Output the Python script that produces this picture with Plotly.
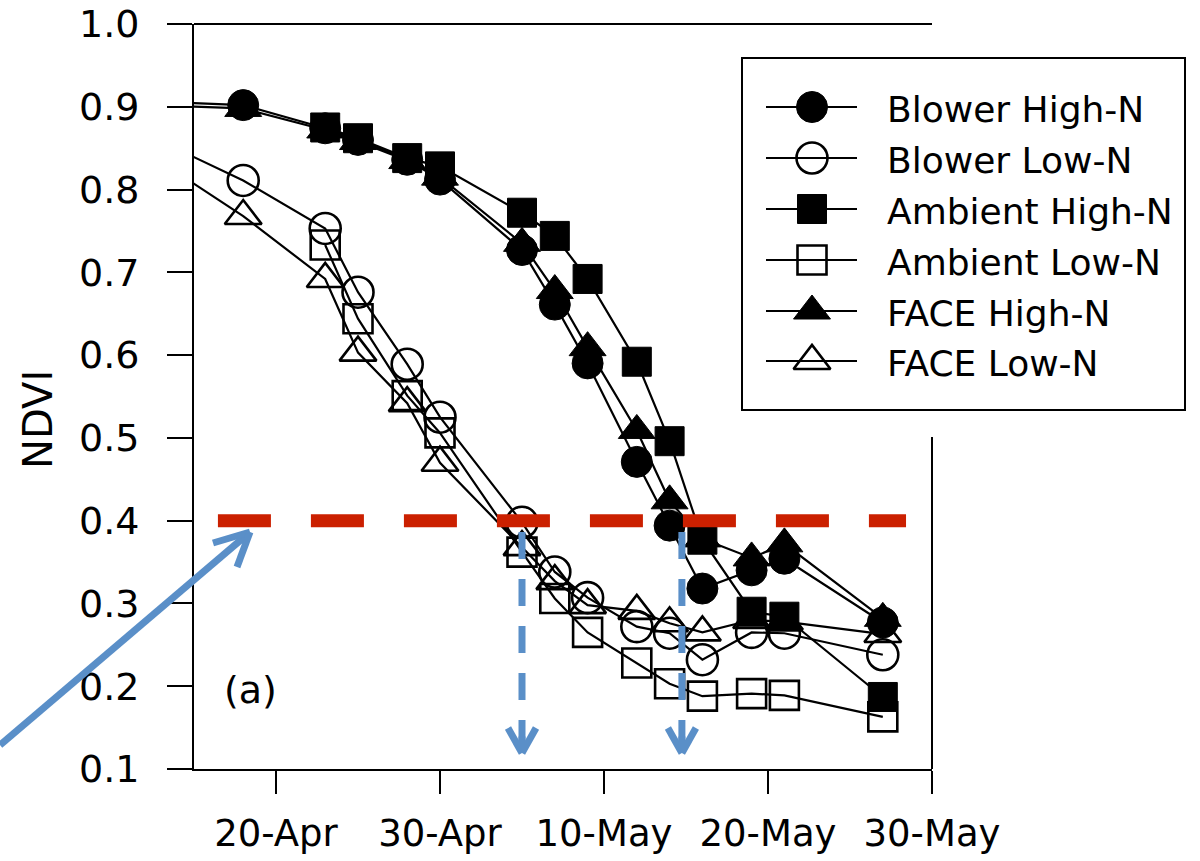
import pandas as pd
import plotly.graph_objects as go

# Observation dates (first date lies left of the visible window)
dates = ["1996-04-08", "1996-04-18", "1996-04-23", "1996-04-25", "1996-04-28",
         "1996-04-30", "1996-05-05", "1996-05-07", "1996-05-09", "1996-05-12",
         "1996-05-14", "1996-05-16", "1996-05-19", "1996-05-21", "1996-05-27"]

blower_high = [0.910, 0.902, 0.874, 0.860, 0.836, 0.812, 0.727, 0.661, 0.590,
               0.471, 0.394, 0.318, 0.340, 0.354, 0.277]
blower_low = [0.905, 0.811, 0.753, 0.676, 0.589, 0.525, 0.398, 0.338, 0.307,
              0.272, 0.264, 0.232, 0.265, 0.264, 0.238]
ambient_high = [None, None, 0.875, 0.862, 0.838, 0.828, 0.772, 0.744, 0.692,
                0.592, 0.496, 0.377, 0.290, 0.284, 0.187]
ambient_low = [None, None, 0.733, 0.644, 0.551, 0.506, 0.362, 0.306, 0.265,
               0.228, 0.203, 0.188, 0.191, 0.189, 0.163]
face_high = [0.905, 0.898, 0.872, 0.858, 0.835, 0.815, 0.735, 0.678, 0.609,
             0.509, 0.424, 0.378, 0.355, 0.372, 0.282]
face_low = [0.898, 0.768, 0.692, 0.603, 0.542, 0.470, 0.368, 0.327, 0.298,
            0.291, 0.276, 0.265, 0.280, 0.278, 0.263]

x_ticks = ["1996-04-20", "1996-04-30", "1996-05-10", "1996-05-20", "1996-05-30"]
x_range = ["1996-04-15", "1996-05-30"]
y_ticks = [0.1, 0.2, 0.3, 0.4, 0.5, 0.6, 0.7, 0.8, 0.9, 1.0]

threshold = 0.4
threshold_span = ["1996-04-16 11:00", "1996-05-28 10:00"]
crossing_dates = ["1996-05-05 00:00", "1996-05-14 18:00"]

FONT = "DejaVu Sans"
RED = "#CB2000"
BLUE = "#5A8FC8"

# series: name, values, symbol, size
series = [
    ("Blower Low-N", blower_low, "circle-open", 31),
    ("Ambient Low-N", ambient_low, "square-open", 29),
    ("FACE Low-N", face_low, "triangle-up-open", 32),
    ("FACE High-N", face_high, "triangle-up", 32),
    ("Blower High-N", blower_high, "circle", 31),
    ("Ambient High-N", ambient_high, "square", 29),
]
legend_order = ["Blower High-N", "Blower Low-N", "Ambient High-N",
                "Ambient Low-N", "FACE High-N", "FACE Low-N"]
style = {name: (sym, size) for name, _, sym, size in series}

W, H = 1200, 861
PL, PR, PT, PB = 194, 932, 24, 769  # plot frame in pixels

fig = go.Figure()

for name, vals, sym, size in series:
    fig.add_trace(go.Scatter(
        x=dates, y=vals, mode="lines+markers", name=name,
        line=dict(color="black", width=2.2),
        marker=dict(symbol=sym, size=size, color="black", opacity=1,
                    line=dict(color="black", width=2.6 if "open" in sym else 1)),
        connectgaps=False, cliponaxis=True, showlegend=False,
        xaxis="x", yaxis="y",
    ))

# Hand-built legend on a pixel overlay axis
leg_rows = [107, 158, 209, 260, 311, 361]
for name, ry in zip(legend_order, leg_rows):
    sym, size = style[name]
    fig.add_trace(go.Scatter(
        x=[766, 812, 857], y=[ry, ry, ry], mode="lines+markers",
        line=dict(color="black", width=2.2),
        marker=dict(symbol=sym, size=[0, size, 0], color="black", opacity=1,
                    line=dict(color="black", width=2.6 if "open" in sym else 1)),
        showlegend=False, hoverinfo="skip", xaxis="x2", yaxis="y2",
    ))
    fig.add_annotation(x=885, y=ry + 2, xref="x2", yref="y2", text=name,
                       showarrow=False, xanchor="left", yanchor="middle",
                       font=dict(family=FONT, size=36, color="black"))

shapes = []
# legend frame
shapes.append(dict(type="rect", xref="x2", yref="y2", x0=742, x1=1185, y0=58, y1=410,
                   line=dict(color="black", width=2), fillcolor="rgba(0,0,0,0)", layer="above"))
# top and right frame lines
shapes.append(dict(type="line", xref="x domain", yref="y domain", x0=0, x1=1, y0=1, y1=1,
                   line=dict(color="black", width=2)))
shapes.append(dict(type="line", xref="x domain", yref="y domain", x0=1, x1=1, y0=0,
                   y1=(PB - 437) / (PB - PT), line=dict(color="black", width=2)))

# NDVI threshold
shapes.append(dict(type="line", xref="x", yref="y", x0=threshold_span[0], x1=threshold_span[1],
                   y0=threshold, y1=threshold, layer="above",
                   line=dict(color=RED, width=13, dash="53px,40px")))

# dashed drop arrows at the crossing dates
px_per_day = (PR - PL) / 45.0
y_per_px = 0.9 / (PB - PT)
top_v = 1.0 - (532 - PT) * y_per_px
tip_v = 1.0 - (753 - PT) * y_per_px
arm_v = 1.0 - (728 - PT) * y_per_px
for cd in crossing_dates:
    t = pd.Timestamp(cd)
    half = pd.Timedelta(days=14 / px_per_day)
    shapes.append(dict(type="line", xref="x", yref="y", x0=t, x1=t, y0=top_v, y1=tip_v + 0.004,
                       layer="above", line=dict(color=BLUE, width=7, dash="27px,20px")))
    for side in (t - half, t + half):
        shapes.append(dict(type="line", xref="x", yref="y", x0=side, x1=t, y0=arm_v, y1=tip_v,
                           layer="above", line=dict(color=BLUE, width=7)))
    shapes.append(dict(type="line", xref="x", yref="y", x0=t, x1=t, y0=tip_v + 0.02, y1=tip_v,
                       layer="above", line=dict(color=BLUE, width=7)))

# pointer arrow to the threshold line
shapes.append(dict(type="line", xref="x2", yref="y2", x0=0, y0=745, x1=249, y1=533,
                   layer="above", line=dict(color=BLUE, width=7)))
for ax_, ay_ in [(213, 543), (237, 567)]:
    shapes.append(dict(type="line", xref="x2", yref="y2", x0=ax_, y0=ay_, x1=250, y1=532,
                       layer="above", line=dict(color=BLUE, width=7)))

fig.add_annotation(x=250, y=690, xref="x2", yref="y2", text="(a)", showarrow=False,
                   xanchor="center", yanchor="middle",
                   font=dict(family=FONT, size=38, color="black"))
fig.add_annotation(x=38, y=420, xref="x2", yref="y2", text="NDVI", showarrow=False,
                   textangle=-90, xanchor="center", yanchor="middle",
                   font=dict(family=FONT, size=40, color="black"))

fig.update_layout(
    width=W, height=H, autosize=False,
    margin=dict(l=0, r=0, t=0, b=0, pad=0),
    paper_bgcolor="white", plot_bgcolor="rgba(0,0,0,0)",
    font=dict(family=FONT, size=36, color="black"),
    showlegend=False,
    shapes=shapes,
    xaxis=dict(
        type="date", domain=[PL / W, PR / W], range=x_range,
        tickvals=x_ticks, tickformat="%-d-%b",
        ticks="outside", ticklen=23, tickwidth=2, tickcolor="black",
        showline=True, linecolor="black", linewidth=2, mirror=False,
        showgrid=False, zeroline=False, automargin=False,
        ticklabelstandoff=8, anchor="y",
        tickfont=dict(family=FONT, size=37, color="black"),
    ),
    yaxis=dict(
        domain=[(H - PB) / H, (H - PT) / H], range=[0.1, 1.0],
        tickvals=y_ticks, tickformat=".1f",
        ticks="outside", ticklen=25, tickwidth=2, tickcolor="black",
        showline=True, linecolor="black", linewidth=2, mirror=False,
        showgrid=False, zeroline=False, automargin=False,
        ticklabelstandoff=20, anchor="x",
        tickfont=dict(family=FONT, size=38, color="black"),
    ),
    xaxis2=dict(domain=[0, 1], range=[0, W], visible=False, anchor="y2", fixedrange=True),
    yaxis2=dict(domain=[0, 1], range=[H, 0], visible=False, anchor="x2", fixedrange=True),
)

fig.write_html("out.html")
